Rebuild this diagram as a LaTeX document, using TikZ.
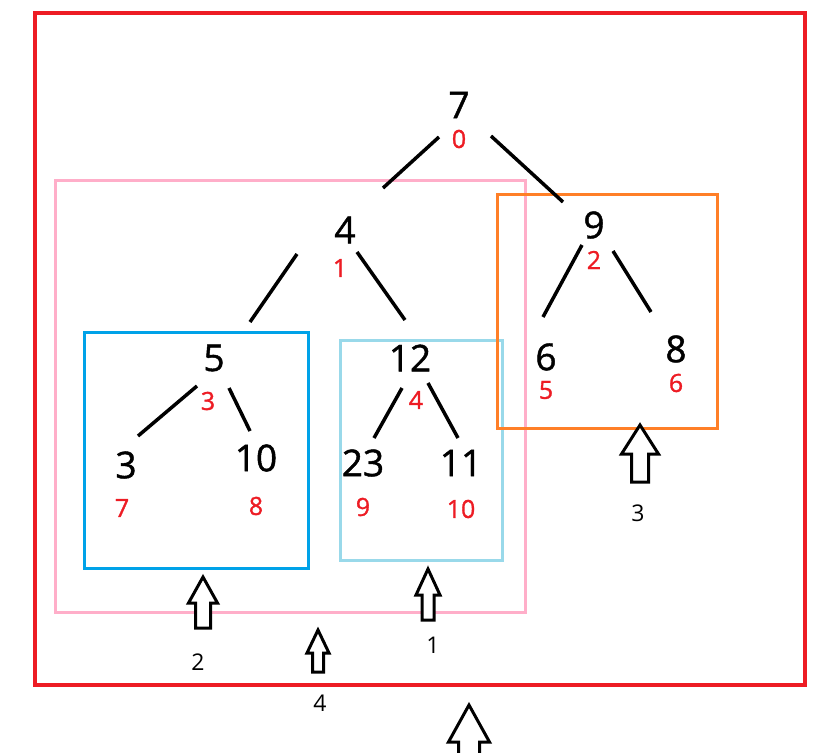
\documentclass[tikz,border=0pt]{standalone}
\usepackage{fontspec}
\setmainfont{Open Sans}
\newfontfamily\boldish[FakeBold=1.2]{Open Sans}
\begin{document}
\begin{tikzpicture}[x=1pt,y=-1pt,
  val/.style={inner sep=0pt,font=\boldish\fontsize{37}{37}\selectfont},
  idx/.style={inner sep=0pt,text={rgb,255:red,237;green,28;blue,36},font=\boldish\fontsize{25}{25}\selectfont},
  lab/.style={inner sep=0pt,font=\fontsize{23}{23}\selectfont},
  edge/.style={line width=3.5pt},
  frame/.style={line width=3pt},
  harrow/.style={line width=3pt,fill=white,line join=miter}]
\useasboundingbox (0,0) rectangle (839,753);
\definecolor{cred}{RGB}{237,28,36}
\definecolor{cpink}{RGB}{255,174,201}
\definecolor{cblue}{RGB}{0,162,232}
\definecolor{clblue}{RGB}{153,217,234}
\definecolor{corange}{RGB}{255,127,39}
% frames
\draw[frame,cred,line width=3.5pt] (35,13) rectangle (805,685);
\draw[frame,cpink] (55,180) rectangle (525,612);
\draw[frame,cblue] (84,332) rectangle (308,568);
\draw[frame,clblue] (340,340) rectangle (502,560);
\draw[frame,corange] (497,194) rectangle (717,428);
% values
\node[val] (n7) at (459,105) {7};
\node[idx] (i7) at (459,139) {0};
\node[val] (n4) at (345,230) {4};
\node[idx] (i4) at (340,268) {1};
\node[val] (n9) at (594,225) {9};
\node[idx] (i9) at (594,260) {2};
\node[val] (n5) at (214,358) {5};
\node[idx] (i5) at (208,401) {3};
\node[val] (n12) at (410,358) {12};
\node[idx] (i12) at (416,400) {4};
\node[val] (n6) at (546,357) {6};
\node[idx] (i6) at (546,390) {5};
\node[val] (n8) at (676,349) {8};
\node[idx] (i8) at (676,383) {6};
\node[val] (n3) at (126,465) {3};
\node[idx] (i3) at (122,508) {7};
\node[val] (n10) at (256,458) {10};
\node[idx] (i10) at (256,506) {8};
\node[val] (n23) at (363,463) {23};
\node[idx] (i23) at (363,507) {9};
\node[val] (n11) at (461,463) {11};
\node[idx] (i11) at (461,509) {10};
% edge end points
\coordinate (a1) at (439,137); \coordinate (b1) at (383,188);
\coordinate (a2) at (491,136); \coordinate (b2) at (563,202);
\coordinate (a3) at (297,254); \coordinate (b3) at (250,322);
\coordinate (a4) at (357,252); \coordinate (b4) at (405,320);
\coordinate (a5) at (582,245); \coordinate (b5) at (543,317);
\coordinate (a6) at (613,251); \coordinate (b6) at (651,312);
\coordinate (a7) at (197,386); \coordinate (b7) at (138,436);
\coordinate (a8) at (229,388); \coordinate (b8) at (250,431);
\coordinate (a9) at (402,388); \coordinate (b9) at (374,438);
\coordinate (a10) at (428,383); \coordinate (b10) at (458,438);
\foreach \k in {1,...,10} {\draw[edge] (a\k) -- (b\k);}
% hollow up arrows: x, tip y, half wing, half shaft, base y, bottom y
\newcommand\hollowup[6]{%
  \draw[harrow] (#1,#2) -- (#1+#3,#5) -- (#1+#4,#5) -- (#1+#4,#6)
    -- (#1-#4,#6) -- (#1-#4,#5) -- (#1-#3,#5) -- cycle;}
\hollowup{203}{577}{14.5}{7.5}{603}{628}
\hollowup{428}{569}{12}{6}{595}{620}
\hollowup{640}{425}{18.5}{8.5}{454}{482}
\hollowup{318}{630}{11}{5.5}{653}{672}
\hollowup{469}{705}{20.5}{10.5}{742}{775}
% labels
\node[lab] (l2) at (198,662) {2};
\node[lab] (l1) at (433,645) {1};
\node[lab] (l3) at (638,513) {3};
\node[lab] (l4) at (320,703) {4};
\end{tikzpicture}
\end{document}
